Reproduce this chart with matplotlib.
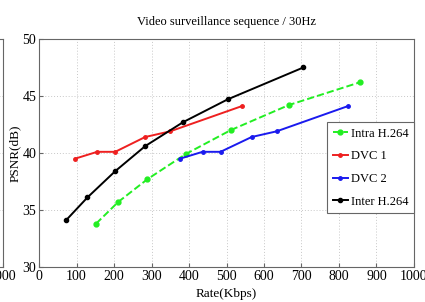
import numpy as np
import matplotlib.pyplot as plt

plt.rcParams['font.family'] = 'Liberation Serif'

# Intra H.264
rate_intra = [152, 211, 289, 391, 511, 666, 856]
psnr_intra = [33.8, 35.7, 37.7, 39.9, 42.0, 44.2, 46.2]
# DVC 1
rate_dvc1 = [96, 155, 203, 283, 350, 540]
psnr_dvc1 = [39.5, 40.1, 40.1, 41.4, 41.9, 44.1]
# DVC 2
rate_dvc2 = [376, 436, 484, 567, 634, 823]
psnr_dvc2 = [39.5, 40.1, 40.1, 41.4, 41.9, 44.1]
# Inter H.264
rate_inter = [72, 129, 203, 283, 384, 503, 705]
psnr_inter = [34.1, 36.1, 38.4, 40.6, 42.7, 44.7, 47.5]

xticks = np.arange(0, 1001, 100)
yticks = [30, 35, 40, 45, 50]

fig = plt.figure(figsize=(4.25, 3.02), dpi=100)

def style(ax):
    ax.set_xlim(0, 1000)
    ax.set_ylim(30, 50)
    ax.set_xticks(xticks)
    ax.set_yticks(yticks)
    ax.grid(True, linestyle=(0, (1, 2)), color='#c8c8c8', linewidth=0.7)
    ax.tick_params(direction='in', length=3, color='#666666', labelsize=10, pad=2)
    for s in ax.spines.values():
        s.set_color('#666666')
        s.set_linewidth(0.8)

# neighbouring panel, cut off at the left edge (only its last x label shows)
ax0 = fig.add_axes([-0.876, 0.116, 0.883, 0.755])
style(ax0)
ax0.set_xticklabels([''] * 10 + ['1000'])
ax0.set_yticklabels([])

ax = fig.add_axes([0.092, 0.116, 0.882, 0.755])
style(ax)

ax.plot(rate_intra, psnr_intra, '--o', color='#22ee22', lw=1.4, ms=3.5, label='Intra H.264')
ax.plot(rate_dvc1, psnr_dvc1, '-o', color='#ee2020', lw=1.4, ms=2.5, label='DVC 1')
ax.plot(rate_dvc2, psnr_dvc2, '-o', color='#1a1aee', lw=1.4, ms=2.5, label='DVC 2')
ax.plot(rate_inter, psnr_inter, '-o', color='black', lw=1.4, ms=3, label='Inter H.264')

ax.set_title('Video surveillance sequence / 30Hz', fontsize=9, pad=10)
ax.set_xlabel('Rate(Kbps)', fontsize=9.5, labelpad=4)
ax.set_ylabel('PSNR(dB)', fontsize=9.5, labelpad=1)

leg = ax.legend(loc='upper right', bbox_to_anchor=(1.0, 0.635), fontsize=9,
                fancybox=False, framealpha=1, edgecolor='#666666',
                handlelength=1.2, handletextpad=0.25, borderpad=0.45,
                labelspacing=0.85, borderaxespad=0)
leg.get_frame().set_linewidth(0.8)

fig.savefig('out.png', dpi=100)
